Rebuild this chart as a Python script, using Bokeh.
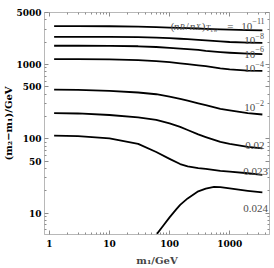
from bokeh.plotting import figure
from bokeh.models import Label, LogAxis, FixedTicker, Range1d, Title
from bokeh.embed import file_html
from bokeh.resources import INLINE

# ---- data ----
m1 = [1.2, 3, 10, 30, 60, 100, 150, 200, 300, 400, 700, 1000, 2000, 3500]
dm_1e11 = [3280, 3280, 3270, 3240, 3190, 3140, 3110, 3090, 3050, 3020, 2970, 2940, 2900, 2880]
dm_1e8 = [2360, 2360, 2360, 2340, 2300, 2260, 2220, 2190, 2150, 2110, 2050, 2010, 1970, 1950]
dm_1e6 = [1790, 1790, 1780, 1760, 1720, 1680, 1640, 1610, 1570, 1530, 1470, 1440, 1400, 1380]
dm_1e4 = [1180, 1180, 1170, 1150, 1110, 1080, 1040, 1010, 975, 950, 890, 860, 830, 820]
dm_1e2 = [460, 456, 444, 421, 399, 370, 346, 327, 301, 284, 254, 242, 223, 213]
dm_002 = [222, 220, 210, 195, 181, 161.5, 145, 132, 115, 106, 91.2, 86, 78.5, 74.5]
dm_0023 = [111, 109, 102, 86, 66.8, 54, 46, 42.8, 40.6, 39.5, 37.3, 36.3, 34.6, 32.8]
m1_0024 = [55, 60, 80, 100, 130, 150, 200, 300, 400, 550, 700, 1000, 2000, 3500]
dm_0024 = [4.64, 5.14, 6.98, 8.84, 11.4, 13.0, 15.9, 19.8, 21.5, 22.7, 22.5, 21.6, 20.1, 19.1]

x_ticks = [1, 10, 100, 1000]
x_minor = [m * 10 ** e for e in range(0, 4) for m in range(2, 10)]
y_ticks = [10, 50, 100, 500, 1000, 5000]
y_minor = [m * 10 ** e for e in range(0, 4) for m in range(2, 10) if m * 10 ** e not in y_ticks]

x_lo, x_hi = 0.83, 4600
y_lo, y_hi = 5.2, 5000

TXT = "#4d4d4d"
FRAME = "#b8b8b8"
TICK = "#8c8c8c"

p = figure(width=274, height=268, x_axis_type="log", y_axis_type="log",
           x_range=Range1d(x_lo, x_hi), y_range=Range1d(y_lo, y_hi * 1.001),
           output_backend="svg", toolbar_location=None,
           min_border_left=44, min_border_right=5, min_border_top=12, min_border_bottom=34)
p.xgrid.visible = False
p.ygrid.visible = False
p.outline_line_color = FRAME
p.background_fill_color = "white"
p.border_fill_color = "white"

p.xaxis.ticker = FixedTicker(ticks=x_ticks, minor_ticks=x_minor)
p.yaxis.ticker = FixedTicker(ticks=y_ticks, minor_ticks=y_minor)

for ax in (p.xaxis[0], p.yaxis[0]):
    ax.axis_line_color = FRAME
    ax.major_tick_line_color = TICK
    ax.minor_tick_line_color = TICK
    ax.major_tick_in = 4
    ax.major_tick_out = 0
    ax.minor_tick_in = 2
    ax.minor_tick_out = 0
    ax.major_label_text_font = "DejaVu Serif"
    ax.major_label_text_font_style = "bold"
    ax.major_label_text_font_size = "9px"
    ax.major_label_text_color = "black"

p.xaxis.major_label_standoff = 5
p.yaxis.major_label_standoff = 3
p.xaxis.major_label_overrides = {1: "1", 10: "10", 100: "100", 1000: "1000"}
p.yaxis.major_label_overrides = {10: "10", 50: "50", 100: "100", 500: "500", 1000: "1000", 5000: "5000"}
p.xaxis.axis_label = "m\u2081/GeV"
p.xaxis.axis_label_text_font = "DejaVu Serif"
p.xaxis.axis_label_text_font_style = "bold"
p.xaxis.axis_label_text_font_size = "10px"
p.xaxis.axis_label_standoff = 5

for side, tk in (("above", FixedTicker(ticks=x_ticks, minor_ticks=x_minor)),
                 ("right", FixedTicker(ticks=y_ticks, minor_ticks=y_minor))):
    ax = LogAxis(ticker=tk, axis_line_color=FRAME, major_tick_line_color=TICK,
                 minor_tick_line_color=TICK, major_tick_in=4, major_tick_out=0,
                 minor_tick_in=2, minor_tick_out=0, major_label_text_font_size="1px",
                 major_label_text_color=None, major_label_standoff=0)
    p.add_layout(ax, side)

# y axis title
p.add_layout(Title(text="(m\u2082\u2212m\u2081)/GeV", align="center", offset=15,
                   text_font="DejaVu Serif", text_font_style="bold", text_font_size="10px",
                   text_color="black", standoff=0), "left")

for ys in (dm_1e11, dm_1e8, dm_1e6, dm_1e4, dm_1e2, dm_002, dm_0023):
    p.line(m1, ys, line_color="black", line_width=1.8, line_join="round")
p.line(m1_0024, dm_0024, line_color="black", line_width=1.8, line_join="round")


def piece(x, y, text, dx, dy, size, style="normal"):
    p.add_layout(Label(x=x, y=y, x_offset=dx, y_offset=dy, text=text,
                       text_font="Liberation Serif", text_font_size=f"{size}px",
                       text_font_style=style, text_color=TXT,
                       text_align="left", text_baseline="alphabetic"))


# title label above the 10^-11 curve
xe, ye = m1[-1], dm_1e11[-1]
piece(xe, ye, "(", -91.7, 4.3, 11)
piece(xe, ye, "n", -88.5, 4.3, 11, "italic")
piece(xe, ye, "B", -82.5, 2.6, 8, "italic")
piece(xe, ye, "/", -76.5, 4.3, 11)
piece(xe, ye, "n", -72.5, 4.3, 11, "italic")
piece(xe, ye, "X", -66.5, 2.6, 8, "italic")
piece(xe, ye, ")", -60.5, 4.3, 11)
piece(xe, ye, "T", -56.5, 1.8, 8, "italic")
piece(xe, ye, "ew", -51.5, 0.6, 6, "italic")
piece(xe, ye, "=", -35, 4.3, 11)
piece(xe, ye, "10", -21, 4.3, 11)
piece(xe, ye, "\u221211", -10, 9, 8)

# power-of-ten labels
for ys, exp, dy in ((dm_1e8, "8", 2.7), (dm_1e6, "6", 0.0), (dm_1e4, "4", 2.6), (dm_1e2, "2", 7.3)):
    piece(m1[-1], ys[-1], "10", -18, dy, 11)
    piece(m1[-1], ys[-1], "\u2212" + exp, -7, dy + 4.7, 8)

piece(m1[-1], dm_002[-1], "0.02", -17, 3.3, 11)
piece(m1[-1], dm_0023[-1], "0.023", -19, 3.3, 11)
piece(m1_0024[-1], dm_0024[-1], "0.024", -19, -16, 11)

open("out.html", "w").write(file_html(p, INLINE))
